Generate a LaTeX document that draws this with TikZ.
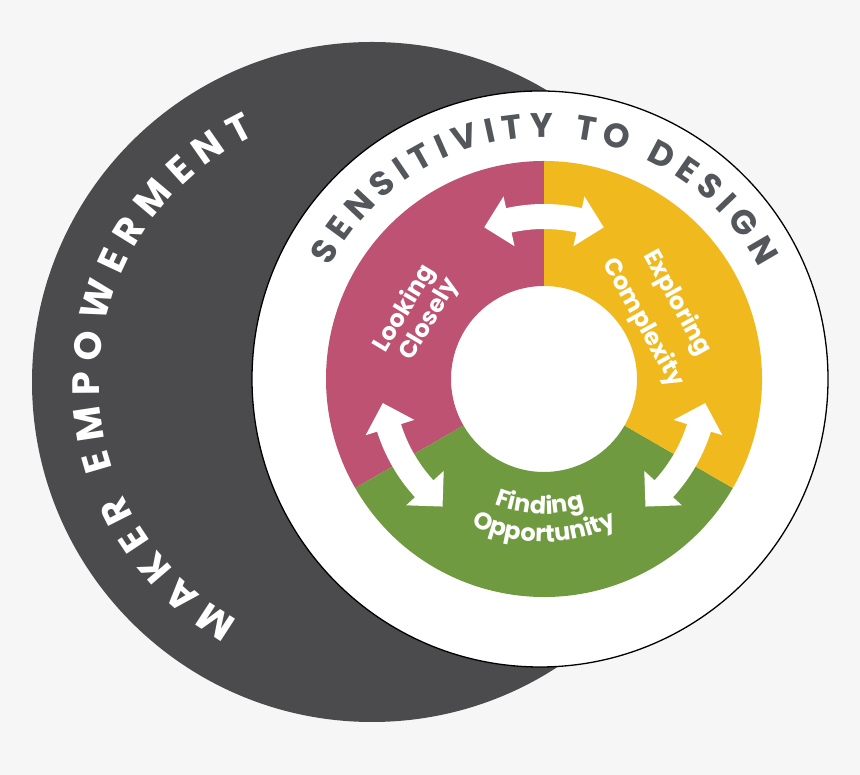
\documentclass[tikz,border=0pt]{standalone}
\usepackage{fontspec}
\newfontfamily\popfam{Poppins}
\usetikzlibrary{decorations.text}
\definecolor{bgc}{HTML}{F6F6F6}
\definecolor{darkc}{HTML}{4B4B4D}
\definecolor{pinkc}{HTML}{BD5273}
\definecolor{yellowc}{HTML}{F0BA1E}
\definecolor{greenc}{HTML}{6F9A40}
\definecolor{graytxt}{HTML}{53565A}
\newcommand\makerfont{\popfam\bfseries\fontsize{38}{38}\selectfont\color{white}}
\newcommand\sensfont{\popfam\bfseries\fontsize{34}{34}\selectfont\color{graytxt}}
\newcommand\lblfont{\popfam\bfseries\fontsize{24}{24}\selectfont\color{white}}
\tikzset{
  lbl/.style={inner sep=0pt, font=\lblfont, text=white},
  dblarrow/.style={fill=white, draw=none}
}
\begin{document}
\begin{tikzpicture}[x=1pt,y=1pt]
\useasboundingbox (0,0) rectangle (860,775);
\fill[bgc] (0,0) rectangle (860,775);
% dark outer circle
\fill[darkc] (372,393) circle[radius=340pt];
% white circle
\draw[black, line width=1.3pt, fill=white] (540,396) circle[radius=288pt];
% ring segments
\begin{scope}[shift={(544,396)}]
  \fill[pinkc] (90:218pt) arc[start angle=90,end angle=210,radius=218pt] -- (210:93pt) arc[start angle=210,end angle=90,radius=93pt] -- cycle;
  \fill[greenc] (210:218pt) arc[start angle=210,end angle=330,radius=218pt] -- (330:93pt) arc[start angle=330,end angle=210,radius=93pt] -- cycle;
  \fill[yellowc] (-30:218pt) arc[start angle=-30,end angle=90,radius=218pt] -- (90:93pt) arc[start angle=90,end angle=-30,radius=93pt] -- cycle;
  % double arrows
  \foreach \a in {90,210,330}{
    \fill[dblarrow] ({\a+12.5}:175pt) arc[start angle=\a+12.5, end angle=\a-12.5, radius=175pt]
      -- ({\a-12.5}:187pt) -- ({\a-21.5}:163pt) -- ({\a-12.5}:136pt) -- ({\a-12.5}:150pt)
      arc[start angle=\a-12.5, end angle=\a+12.5, radius=150pt]
      -- ({\a+12.5}:136pt) -- ({\a+21.5}:163pt) -- ({\a+12.5}:187pt) -- cycle;
  }
  % curved texts
  \path[decorate, decoration={text along path, text align={fit to path}, text={|\sensfont|SENSITIVITY TO DESIGN}}]
    (152.3:242pt) arc[start angle=152.3, end angle=27.3, radius=242pt];
  \path[decorate, decoration={text along path, text align=center, text={|\lblfont|Finding}}]
    (228:135pt) arc[start angle=228, end angle=308, radius=135pt];
  \path[decorate, decoration={text along path, text align=center, text={|\lblfont|Opportunity}}]
    (230:163pt) arc[start angle=230, end angle=310, radius=163pt];
\end{scope}
\begin{scope}[shift={(372,393)}]
  \path[decorate, decoration={text along path, text align={fit to path}, text={|\makerfont|MAKER EMPOWERMENT}}]
    (240.6:273pt) arc[start angle=240.6, end angle=115.2, radius=273pt];
\end{scope}
% straight labels
\node[lbl, rotate=59] (look) at (405,466) {Looking};
\node[lbl, rotate=59] (close) at (430,455) {Closely};
\node[lbl, rotate=-61] (expl) at (677,472) {Exploring};
\node[lbl, rotate=-61] (compl) at (643,452) {Complexity};
\end{tikzpicture}
\end{document}
